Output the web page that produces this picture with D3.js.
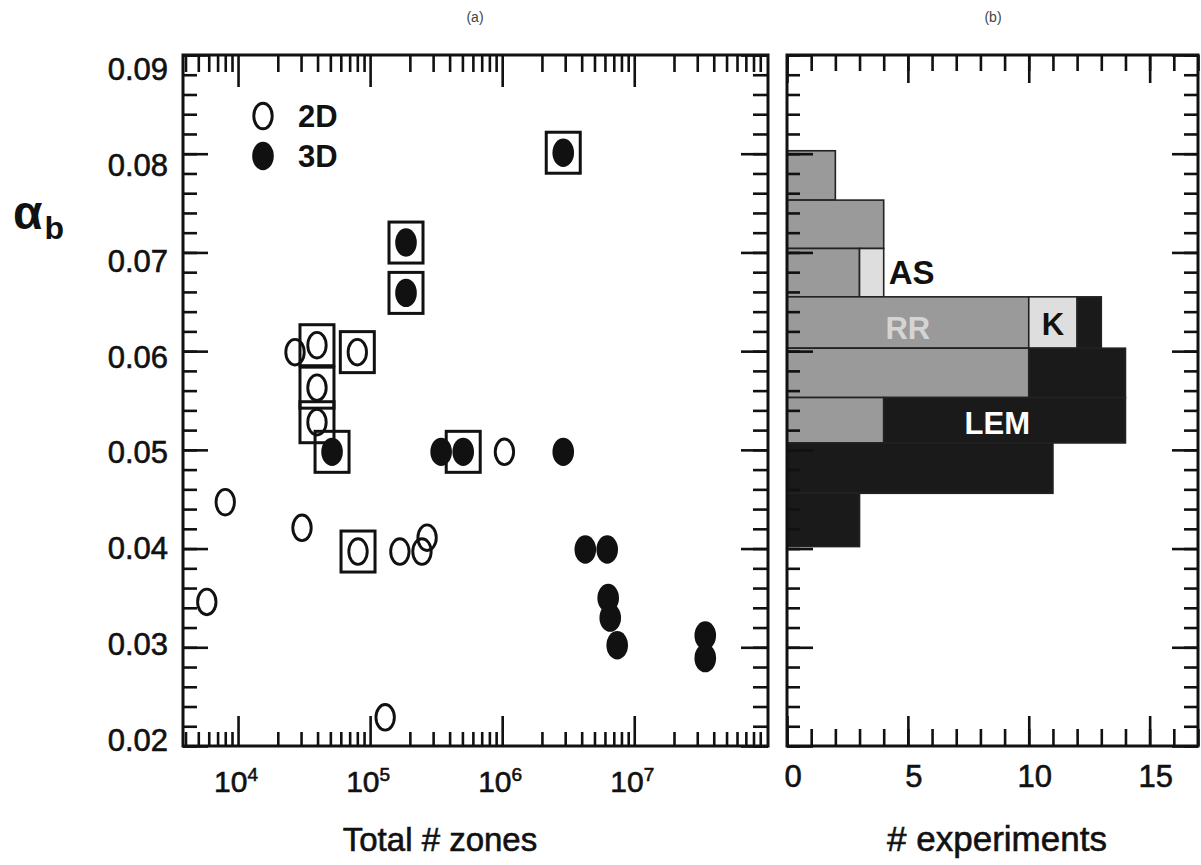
<!DOCTYPE html>
<html>
<head>
<meta charset="utf-8">
<script src="https://cdn.jsdelivr.net/npm/d3@7"></script>
<style>
  body { margin: 0; background: #fff; }
  svg { display: block; font-family: "Liberation Sans", Arial, sans-serif; }
</style>
</head>
<body>
<div id="chart"></div>
<script>
// data
// (a) alpha_b vs total number of zones
const zones2D  = [5800, 8000, 30500, 27000, 39600, 39600, 39600, 80000, 81000, 168000, 247000, 270000, 130000, 1.04e6];
const alpha2D  = [0.0346, 0.0447, 0.0421, 0.0599, 0.0606, 0.0563, 0.0528, 0.0599, 0.0397, 0.0397, 0.0397, 0.0411, 0.0229, 0.0498];
const boxed2D  = [false, false, false, false, true, true, true, true, true, false, false, false, false, false];

const zones3D  = [51500, 345000, 507000, 2.9e6, 4.26e6, 6.24e6, 6.35e6, 6.58e6, 7.43e6, 3.45e7, 3.45e7, 2.9e6, 187000, 187000];
const alpha3D  = [0.0498, 0.0498, 0.0498, 0.0498, 0.0399, 0.0399, 0.0350, 0.0330, 0.0302, 0.0312, 0.0289, 0.0801, 0.0710, 0.0659];
const boxed3D  = [true, false, true, false, false, false, false, false, false, false, false, true, true, true];

// (b) histogram of alpha_b, stacked by group
const binTop   = [0.0803, 0.0753, 0.0704, 0.0655, 0.0603, 0.0553, 0.0507, 0.0456];
const binBot   = [0.0753, 0.0704, 0.0655, 0.0603, 0.0553, 0.0507, 0.0456, 0.0402];
const groups   = ["RR", "AS", "K", "LEM"];
const countRR  = [2, 4, 3, 10, 10, 4, 0, 0];
const countAS  = [0, 0, 1, 0, 0, 0, 0, 0];
const countK   = [0, 0, 0, 2, 0, 0, 0, 0];
const countLEM = [0, 0, 0, 1, 4, 10, 11, 3];

const yTicks   = [0.02, 0.03, 0.04, 0.05, 0.06, 0.07, 0.08, 0.09];
const xLogExp  = [4, 5, 6, 7];
const xExpTicks = [0, 5, 10, 15];

const W = 1201, H = 865;
const svg = d3.select("#chart").append("svg")
  .attr("width", W).attr("height", H);

const y = d3.scaleLinear().domain([0.02, 0.09]).range([746, 55]);
// the printed tick labels sit a little off the ticks in the original
const yLab = d3.scaleLinear().domain([0.02, 0.09]).range([740, 69]);
const xL = d3.scaleLog().domain([3830, 1.03e8]).range([183, 768]);
const xR = d3.scaleLinear().domain([0, 17]).range([787, 1198]);

const yMinor = d3.range(0, 36).map(i => +(0.02 + i * 0.002).toFixed(3));
const logMinor = [];
for (let e = 3; e <= 7; e++) for (let m = 2; m <= 9; m++) {
  const v = m * Math.pow(10, e);
  if (v > 3830 && v < 1.03e8) logMinor.push(v);
}
const logMajor = xLogExp.map(e => Math.pow(10, e));
const expMinor = d3.range(0, 18);

const ink = "#111";

// tick helper: draws an axis with no labels
function ticks(axis, tx, ty, vals, size) {
  const g = svg.append("g")
    .attr("transform", `translate(${tx},${ty})`)
    .call(axis.tickValues(vals).tickSize(size).tickFormat(""));
  g.select(".domain").remove();
  g.selectAll("line").attr("stroke", ink).attr("stroke-width", 2.6);
  return g;
}

// ---------- panel (b) bars ----------
const counts = { RR: countRR, AS: countAS, K: countK, LEM: countLEM };
const fills = { RR: "#9a9a9a", AS: "#dedede", K: "#dedede", LEM: "#1a1a1a" };
binTop.forEach((t, i) => {
  let start = 0;
  groups.forEach(gname => {
    const c = counts[gname][i];
    if (c > 0) {
      svg.append("rect")
        .attr("x", xR(start))
        .attr("y", y(t))
        .attr("width", xR(start + c) - xR(start))
        .attr("height", y(binBot[i]) - y(t))
        .attr("fill", fills[gname])
        .attr("stroke", "#222")
        .attr("stroke-width", 1.6);
      start += c;
    }
  });
});

svg.append("text").attr("x", xR(4) + 5).attr("y", y(0.068) + 12)
  .attr("font-size", 33).attr("font-weight", "bold").attr("fill", ink).text("AS");
svg.append("text").attr("x", xR(5)).attr("y", y(0.0624) + 12)
  .attr("text-anchor", "middle").attr("font-size", 31).attr("font-weight", "bold")
  .attr("fill", "#d4d4d4").text("RR");
svg.append("text").attr("x", xR(11)).attr("y", y(0.0627) + 11)
  .attr("text-anchor", "middle").attr("font-size", 31).attr("font-weight", "bold")
  .attr("fill", ink).text("K");
svg.append("text").attr("x", xR(8.7)).attr("y", y(0.0527) + 11)
  .attr("text-anchor", "middle").attr("font-size", 31).attr("font-weight", "bold")
  .attr("fill", "#fff").text("LEM");

// ---------- panel (a) points ----------
const pts = svg.append("g");
zones2D.forEach((n, i) => {
  pts.append("ellipse")
    .attr("cx", xL(n)).attr("cy", y(alpha2D[i]))
    .attr("rx", 9.2).attr("ry", 12.8)
    .attr("fill", "none")
    .attr("stroke", ink).attr("stroke-width", 2.9);
});
zones3D.forEach((n, i) => {
  pts.append("ellipse")
    .attr("cx", xL(n)).attr("cy", y(alpha3D[i]))
    .attr("rx", 10.8).attr("ry", 14.2)
    .attr("fill", ink);
});
const boxes = zones2D.map((n, i) => [n, alpha2D[i], boxed2D[i]])
  .concat(zones3D.map((n, i) => [n, alpha3D[i], boxed3D[i]]))
  .filter(d => d[2]);
pts.selectAll("rect.box").data(boxes).enter().append("rect")
  .attr("class", "box")
  .attr("x", d => xL(d[0]) - 17).attr("y", d => y(d[1]) - 20.5)
  .attr("width", 34).attr("height", 41)
  .attr("fill", "none").attr("stroke", ink).attr("stroke-width", 3);

// legend
svg.append("ellipse").attr("cx", 263).attr("cy", 116).attr("rx", 9.2).attr("ry", 12.8)
  .attr("fill", "none").attr("stroke", ink).attr("stroke-width", 2.9);
svg.append("ellipse").attr("cx", 263).attr("cy", 156).attr("rx", 10.8).attr("ry", 14.2)
  .attr("fill", ink);
svg.append("text").attr("x", 298).attr("y", 127).attr("font-size", 31)
  .attr("font-weight", "bold").attr("fill", ink).text("2D");
svg.append("text").attr("x", 298).attr("y", 167).attr("font-size", 31)
  .attr("font-weight", "bold").attr("fill", ink).text("3D");

// ---------- axes, panel (a) ----------
ticks(d3.axisLeft(y), 183, 0, yMinor, -14);
ticks(d3.axisLeft(y), 183, 0, yTicks, -25);
ticks(d3.axisRight(y), 768, 0, yMinor, -15);
ticks(d3.axisRight(y), 768, 0, yTicks, -27);
ticks(d3.axisBottom(xL), 0, 746, logMinor, -14);
ticks(d3.axisBottom(xL), 0, 746, logMajor, -30);
ticks(d3.axisTop(xL), 0, 55, logMinor, -17);
ticks(d3.axisTop(xL), 0, 55, logMajor, -32);
svg.append("rect").attr("x", 183).attr("y", 55).attr("width", 768 - 183).attr("height", 746 - 55)
  .attr("fill", "none").attr("stroke", ink).attr("stroke-width", 3);

// ---------- axes, panel (b) ----------
ticks(d3.axisLeft(y), 787, 0, yMinor, -13);
ticks(d3.axisLeft(y), 787, 0, yTicks, -26);
ticks(d3.axisRight(y), 1198, 0, yMinor, -14);
ticks(d3.axisRight(y), 1198, 0, yTicks, -26);
ticks(d3.axisBottom(xR), 0, 746, expMinor, -17);
ticks(d3.axisBottom(xR), 0, 746, xExpTicks, -30);
ticks(d3.axisTop(xR), 0, 55, expMinor, -16);
ticks(d3.axisTop(xR), 0, 55, xExpTicks, -28);
svg.append("rect").attr("x", 787).attr("y", 55).attr("width", 1198 - 787).attr("height", 746 - 55)
  .attr("fill", "none").attr("stroke", ink).attr("stroke-width", 3);

// ---------- labels ----------
const heavy = sel => sel.attr("stroke", ink).attr("stroke-width", 0.6);

svg.selectAll("text.ylab").data(yTicks).enter().append("text")
  .attr("class", "ylab")
  .attr("x", 168).attr("y", d => yLab(d) + 11)
  .attr("text-anchor", "end").attr("font-size", 31).attr("fill", ink)
  .text(d => d.toFixed(2))
  .call(heavy);

xLogExp.forEach(e => {
  const t = svg.append("text")
    .attr("x", xL(Math.pow(10, e)) - 2).attr("y", 792)
    .attr("text-anchor", "middle").attr("font-size", 30).attr("fill", ink)
    .call(heavy);
  t.append("tspan").text("10");
  t.append("tspan").attr("dy", -11).attr("font-size", 19).text(e);
});

svg.selectAll("text.xrlab").data(xExpTicks).enter().append("text")
  .attr("class", "xrlab")
  .attr("x", d => xR(d) + 6).attr("y", 787)
  .attr("text-anchor", "middle").attr("font-size", 31).attr("fill", ink)
  .text(d => d)
  .call(heavy);

svg.append("text").attr("x", 440).attr("y", 851).attr("text-anchor", "middle")
  .attr("font-size", 33).attr("fill", ink).text("Total # zones").call(heavy);
svg.append("text").attr("x", 997).attr("y", 851).attr("text-anchor", "middle")
  .attr("font-size", 35).attr("fill", ink).text("# experiments").call(heavy);

const al = svg.append("text").attr("x", 13).attr("y", 229)
  .attr("font-size", 48).attr("font-weight", "bold").attr("fill", ink);
al.append("tspan").text("α");
al.append("tspan").attr("dx", 2).attr("dy", 10).attr("font-size", 32).text("b");

svg.append("text").attr("x", 475).attr("y", 22).attr("text-anchor", "middle")
  .attr("font-size", 14).attr("fill", "#444").text("(a)");
svg.append("text").attr("x", 993).attr("y", 22).attr("text-anchor", "middle")
  .attr("font-size", 14).attr("fill", "#444").text("(b)");
</script>
</body>
</html>
